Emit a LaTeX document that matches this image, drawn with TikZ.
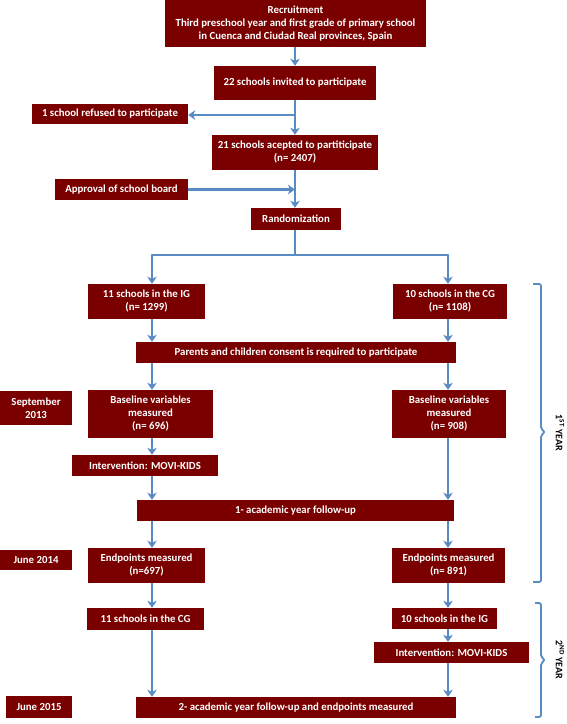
\documentclass[tikz,border=0pt]{standalone}
\usepackage{fontspec}
\setmainfont{Carlito}
\usetikzlibrary{arrows.meta}
\definecolor{boxred}{RGB}{122,0,0}
\definecolor{arrowblue}{RGB}{88,138,196}
\tikzset{
  box/.style={fill=boxred, text=white, font=\bfseries\fontsize{10.8}{13}\selectfont, align=center, inner sep=0pt},
  sz/.style 2 args={minimum width=#1pt, minimum height=#2pt},
  conn/.style={draw=arrowblue, line width=2.6pt, -{Stealth[length=7pt,width=9.5pt,inset=2pt]}},
  plain/.style={draw=arrowblue, line width=2.6pt},
  bracketline/.style={draw=arrowblue, line width=1.8pt, rounded corners=2pt},
  yearlabel/.style={font=\bfseries\fontsize{10}{11}\selectfont, rotate=-90, inner sep=0pt}
}
\begin{document}
\begin{tikzpicture}[x=1pt,y=-1pt]
\useasboundingbox (0,0) rectangle (567,724);
% column coordinates
\coordinate (cL) at (152,0);
\coordinate (cM) at (295,0);
\coordinate (cR) at (448,0);
% nodes
\node[box, sz={261}{47}] (rec) at (295.5,23.5) {Recruitment\\Third preschool year and first grade of primary school\\in Cuenca and Ciudad Real provinces, Spain};
\node[box, sz={162}{34}] (inv) at (295,83) {22 schools invited to participate};
\node[box, sz={156}{20}] (ref) at (110,114) {1 school refused to participate};
\node[box, sz={166}{35}] (acc) at (295,152.5) {21 schools acepted to partiticipate\\(n= 2407)};
\node[box, sz={133}{21}] (app) at (121.5,189.5) {Approval of school board};
\node[box, sz={90}{22}] (ran) at (296,219) {Randomization};
\node[box, sz={117}{35}] (ig1) at (146.5,301.5) {11 schools in the IG\\(n= 1299)};
\node[box, sz={114}{35}] (cg1) at (450,301.5) {10 schools in the CG\\(n= 1108)};
\node[box, sz={320}{21}] (con) at (296,352.5) {Parents and children consent is required to participate};
\node[box, sz={72}{34}] (sep) at (36,408) {September\\2013};
\node[box, sz={125}{48}] (bl) at (150.5,414) {Baseline variables\\measured\\(n= 696)};
\node[box, sz={114}{48}] (br) at (449,414) {Baseline variables\\measured\\(n= 908)};
\node[box, sz={146}{21}] (intl) at (145,465.5) {Intervention: MOVI-KIDS};
\node[box, sz={317}{21}] (fu1) at (295.5,510.5) {1- academic year follow-up};
\node[box, sz={72}{20}] (jun14) at (36,560) {June 2014};
\node[box, sz={117}{35}] (epl) at (146.5,565.5) {Endpoints measured\\(n=697)};
\node[box, sz={113}{35}] (epr) at (448.5,565.5) {Endpoints measured\\(n= 891)};
\node[box, sz={117}{22}] (cg2) at (145.5,619) {11 schools in the CG};
\node[box, sz={105}{21}] (ig2) at (444.5,618.5) {10 schools in the IG};
\node[box, sz={155}{21}] (intr) at (451.5,652.5) {Intervention: MOVI-KIDS};
\node[box, sz={66}{22}] (jun15) at (39,707) {June 2015};
\node[box, sz={320}{21}] (fu2) at (296,707.5) {2- academic year follow-up and endpoints measured};
% junction coordinates
\coordinate (j1) at (295,115);
\coordinate (split) at (295,255);
% connectors main column
\draw[conn] (rec.south -| cM) -- (inv.north -| cM);
\draw[conn] (inv.south -| cM) -- (acc.north -| cM);
\draw[conn] (j1) -- (ref.east |- j1);
\draw[conn] (acc.south -| cM) -- (ran.north -| cM);
\draw[conn] (app.east) -- (app.east -| cM);
\draw[plain] (ran.south -| cM) -- (split);
\draw[plain, line cap=round] (split -| cL) -- (split -| cR);
\draw[conn] (split -| cL) -- (ig1.north -| cL);
\draw[conn] (split -| cR) -- (cg1.north -| cR);
% left column
\draw[conn] (ig1.south -| cL) -- (con.north -| cL);
\draw[conn] (con.south -| cL) -- (bl.north -| cL);
\draw[conn] (bl.south -| cL) -- (intl.north -| cL);
\draw[conn] (intl.south -| cL) -- (fu1.north -| cL);
\draw[conn] (fu1.south -| cL) -- (epl.north -| cL);
\draw[conn] (epl.south -| cL) -- (cg2.north -| cL);
\draw[conn] (cg2.south -| cL) -- (fu2.north -| cL);
% right column
\draw[conn] (cg1.south -| cR) -- (con.north -| cR);
\draw[conn] (con.south -| cR) -- (br.north -| cR);
\draw[conn] (br.south -| cR) -- (fu1.north -| cR);
\draw[conn] (fu1.south -| cR) -- (epr.north -| cR);
\draw[conn] (epr.south -| cR) -- (ig2.north -| cR);
\draw[conn] (ig2.south -| cR) -- (intr.north -| cR);
\draw[conn] (intr.south -| cR) -- (fu2.north -| cR);
% brackets
\coordinate (b1top) at (533,284);
\coordinate (b1bot) at (533,582);
\draw[bracketline] (b1top) -- (541,284) -- (541,429) -- (545,432) -- (541,435) -- (541,582) -- (b1bot);
\coordinate (b2top) at (535,603);
\coordinate (b2bot) at (535,717);
\draw[bracketline] (b2top) -- (541,603) -- (541,657) -- (545,660) -- (541,663) -- (541,717) -- (b2bot);
\node[yearlabel] (y1) at (560,433) {1\textsuperscript{ST} YEAR};
\node[yearlabel] (y2) at (560,660) {2\textsuperscript{ND} YEAR};
\end{tikzpicture}
\end{document}
